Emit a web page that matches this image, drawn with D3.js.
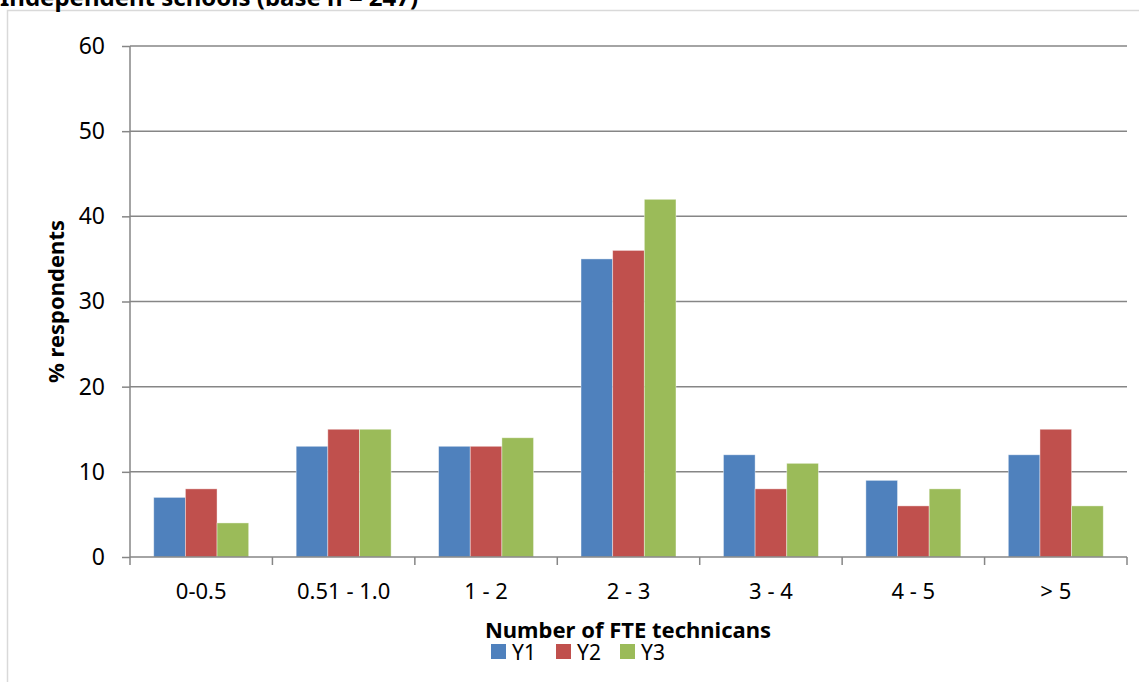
<!DOCTYPE html>
<html>
<head>
<meta charset="utf-8">
<script src="https://cdn.jsdelivr.net/npm/d3@7"></script>
<style>
  body { margin: 0; background: #fff; }
  text { font-family: "Noto Sans", "Open Sans", sans-serif; }
</style>
</head>
<body>
<script>
var w = 1139;
var h = 682;

var categories = ["0-0.5", "0.51 - 1.0", "1 - 2", "2 - 3", "3 - 4", "4 - 5", "> 5"];
var seriesNames = ["Y1", "Y2", "Y3"];
var y1 = [7, 13, 13, 35, 12, 9, 12];
var y2 = [8, 15, 13, 36, 8, 6, 15];
var y3 = [4, 15, 14, 42, 11, 8, 6];
var yTicks = [0, 10, 20, 30, 40, 50, 60];
var colors = ["#4f81bd", "#c0504d", "#9bbb59"];

var values = [y1, y2, y3];

var margin = {left: 130, right: 12, top: 46, bottom: 125};

var svg = d3.select("body")
    .append("svg")
    .attr("width", w)
    .attr("height", h);

// outer chart frame (partly off the page)
svg.append("rect")
    .attr("x", 7.5)
    .attr("y", 10.5)
    .attr("width", 1140)
    .attr("height", 700)
    .attr("fill", "none")
    .attr("stroke", "#d9d9d9")
    .attr("stroke-width", 1.5);

// title, clipped at the top edge
svg.append("text")
    .attr("x", 0)
    .attr("y", 6)
    .attr("font-size", 24)
    .attr("font-weight", "bold")
    .text("Independent schools (base n = 247)");

var xScale = d3.scaleBand()
    .domain(categories)
    .range([margin.left, w - margin.right])
    .paddingInner(0)
    .paddingOuter(0);

// gap width 150% of a bar
var inner = d3.scaleBand()
    .domain(seriesNames)
    .range([0, xScale.bandwidth()])
    .paddingInner(0)
    .paddingOuter(0.75);

var yScale = d3.scaleLinear()
    .domain([0, 60])
    .range([h - margin.bottom, margin.top]);

// gridlines
svg.append("g")
    .selectAll("line")
    .data(yTicks.slice(1))
    .enter()
    .append("line")
    .attr("x1", margin.left)
    .attr("x2", w - margin.right)
    .attr("y1", function(d) { return yScale(d); })
    .attr("y2", function(d) { return yScale(d); })
    .attr("stroke", "#868686")
    .attr("stroke-width", 1.5);

// bars
var groups = svg.selectAll("g.series")
    .data(values)
    .enter()
    .append("g")
    .attr("class", "series")
    .style("fill", function(d, i) { return colors[i]; });

groups.selectAll("rect")
    .data(function(d, i) {
        return d.map(function(v, j) { return {s: seriesNames[i], c: categories[j], v: v}; });
    })
    .enter()
    .append("rect")
    .attr("x", function(d) { return xScale(d.c) + inner(d.s); })
    .attr("y", function(d) { return yScale(d.v); })
    .attr("width", inner.bandwidth())
    .attr("height", function(d) { return yScale(0) - yScale(d.v); })
    .attr("stroke", "#fff")
    .attr("stroke-opacity", 0.5)
    .attr("stroke-width", 0.8);

// y axis
var yAxis = d3.axisLeft(yScale)
    .tickValues(yTicks)
    .tickSize(8)
    .tickPadding(17);

var gy = svg.append("g")
    .attr("transform", "translate(" + margin.left + ",0)")
    .call(yAxis);
gy.selectAll("line, path").attr("stroke", "#868686").attr("stroke-width", 1.5);
gy.select("path").attr("d", "M0," + yScale(0) + "V" + yScale(60));
gy.selectAll("text").attr("font-size", 23).attr("fill", "#000")
    .style("font-family", "'Noto Sans', sans-serif");

// x axis
var xAxis = d3.axisBottom(xScale)
    .tickSize(0)
    .tickPadding(26);

var gx = svg.append("g")
    .attr("transform", "translate(0," + yScale(0) + ")")
    .call(xAxis);
gx.select("path").attr("stroke", "#868686").attr("stroke-width", 1.5)
    .attr("d", "M" + margin.left + ",0H" + (w - margin.right));
gx.selectAll("text").attr("font-size", 22).attr("fill", "#000")
    .style("font-family", "'Noto Sans', sans-serif");

// category boundary ticks
gx.append("g")
    .selectAll("line")
    .data(categories.concat([null]))
    .enter()
    .append("line")
    .attr("x1", function(d, i) { return margin.left + i * xScale.bandwidth(); })
    .attr("x2", function(d, i) { return margin.left + i * xScale.bandwidth(); })
    .attr("y1", 0)
    .attr("y2", 8)
    .attr("stroke", "#868686")
    .attr("stroke-width", 1.5);

// axis titles
svg.append("text")
    .attr("transform", "translate(64," + yScale(30) + ") rotate(-90)")
    .attr("text-anchor", "middle")
    .attr("font-size", 22)
    .attr("font-weight", "bold")
    .text("% respondents");

svg.append("text")
    .attr("x", 628)
    .attr("y", 638)
    .attr("text-anchor", "middle")
    .attr("font-size", 22)
    .attr("font-weight", "bold")
    .text("Number of FTE technicans");

// legend
var legendX = [491, 556, 620];
var legend = svg.append("g");
seriesNames.forEach(function(key, i) {
    legend.append("rect")
        .attr("x", legendX[i])
        .attr("y", 644)
        .attr("width", 15)
        .attr("height", 15)
        .style("fill", colors[i]);

    legend.append("text")
        .attr("x", legendX[i] + 21)
        .attr("y", 660)
        .attr("font-size", 21)
        .text(key);
});
</script>
</body>
</html>
